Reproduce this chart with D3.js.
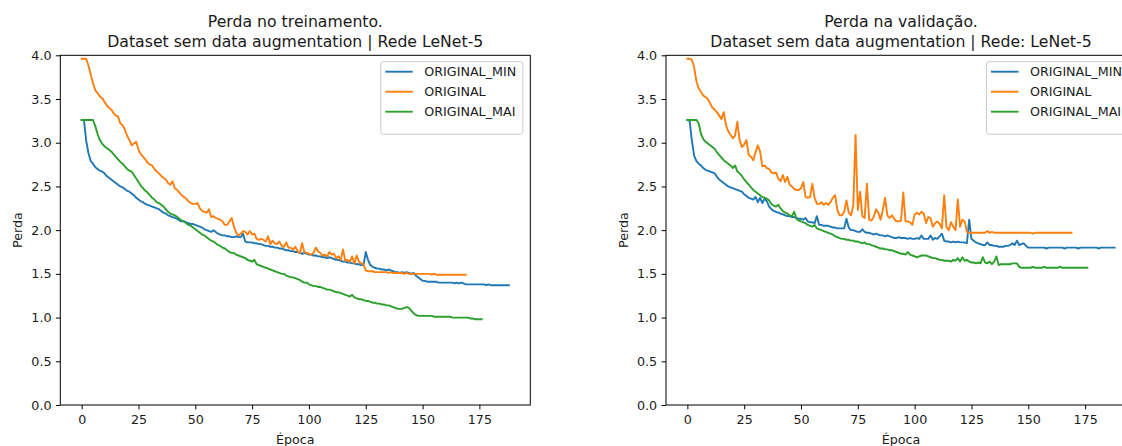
<!DOCTYPE html>
<html>
<head>
<meta charset="utf-8">
<script src="https://cdn.jsdelivr.net/npm/d3@7"></script>
<style>
    body { margin: 0; background: #fff; }
    svg text { font-family: "DejaVu Sans", sans-serif; fill: #1a1a1a; }
</style>
</head>
<body>
<div id="chart"></div>
<script>
const seriesNames = ["ORIGINAL_MIN", "ORIGINAL", "ORIGINAL_MAI"];
const xTicks = [0, 25, 50, 75, 100, 125, 150, 175];
const yTicks = [0, 0.5, 1, 1.5, 2, 2.5, 3, 3.5, 4];

// perda no treinamento (uma posição por época)
const trainMin = [
    3.26,3.26,3.02,2.88,2.79,2.76,2.72,2.70,2.68,2.67,
    2.65,2.62,2.60,2.58,2.56,2.54,2.52,2.50,2.49,2.47,
    2.45,2.44,2.42,2.40,2.37,2.35,2.33,2.32,2.30,2.29,
    2.28,2.27,2.26,2.25,2.24,2.22,2.20,2.19,2.17,2.16,
    2.15,2.14,2.13,2.11,2.10,2.10,2.09,2.08,2.07,2.07,
    2.06,2.05,2.04,2.03,2.01,2.00,1.99,1.98,2.00,1.98,
    1.96,1.95,1.94,1.94,1.93,1.93,1.92,1.92,1.93,1.92,
    1.92,1.96,1.87,1.86,1.86,1.86,1.85,1.85,1.84,1.84,
    1.83,1.82,1.82,1.81,1.81,1.80,1.80,1.79,1.79,1.78,
    1.77,1.77,1.76,1.76,1.75,1.75,1.74,1.73,1.74,1.73,
    1.72,1.72,1.71,1.71,1.70,1.70,1.69,1.69,1.68,1.69,
    1.68,1.67,1.66,1.66,1.65,1.64,1.64,1.63,1.63,1.62,
    1.62,1.61,1.61,1.60,1.60,1.75,1.66,1.60,1.58,1.57,
    1.56,1.56,1.55,1.55,1.54,1.55,1.54,1.53,1.52,1.52,
    1.51,1.52,1.51,1.52,1.51,1.50,1.51,1.48,1.46,1.44,
    1.42,1.42,1.41,1.41,1.41,1.41,1.41,1.40,1.40,1.40,
    1.40,1.40,1.40,1.40,1.39,1.40,1.39,1.40,1.39,1.38,
    1.38,1.38,1.38,1.38,1.38,1.38,1.38,1.38,1.37,1.38,
    1.37,1.37,1.37,1.37,1.37,1.37,1.37,1.37,1.37
];
const trainOrig = [
    3.96,3.96,3.96,3.88,3.78,3.68,3.60,3.57,3.53,3.51,
    3.47,3.43,3.40,3.38,3.34,3.31,3.30,3.22,3.20,3.15,
    3.08,3.03,2.97,2.99,3.01,2.92,2.87,2.84,2.81,2.77,
    2.75,2.74,2.70,2.67,2.65,2.62,2.60,2.58,2.54,2.52,
    2.56,2.48,2.46,2.43,2.40,2.38,2.36,2.33,2.31,2.30,
    2.30,2.31,2.25,2.22,2.21,2.20,2.24,2.15,2.16,2.14,
    2.13,2.12,2.10,2.06,2.06,2.10,2.14,2.04,1.97,1.94,
    1.96,1.99,1.98,1.95,1.99,1.95,1.96,1.90,1.89,1.90,
    1.89,1.87,1.93,1.84,1.88,1.85,1.84,1.87,1.82,1.81,
    1.86,1.80,1.80,1.78,1.81,1.76,1.74,1.85,1.75,1.74,
    1.73,1.72,1.74,1.80,1.76,1.74,1.71,1.72,1.70,1.75,
    1.72,1.73,1.68,1.70,1.66,1.78,1.65,1.66,1.64,1.70,
    1.62,1.71,1.64,1.62,1.61,1.54,1.53,1.53,1.53,1.52,
    1.52,1.52,1.52,1.52,1.52,1.51,1.52,1.51,1.51,1.51,
    1.51,1.51,1.50,1.51,1.50,1.50,1.50,1.50,1.50,1.50,
    1.50,1.50,1.50,1.50,1.49,1.50,1.49,1.49,1.49,1.49,
    1.49,1.49,1.49,1.49,1.49,1.49,1.49,1.49,1.49,1.49
];
const trainMai = [
    3.26,3.26,3.26,3.26,3.26,3.26,3.19,3.10,3.03,2.99,
    2.96,2.94,2.92,2.90,2.87,2.84,2.81,2.78,2.76,2.73,
    2.70,2.68,2.67,2.63,2.59,2.55,2.51,2.48,2.45,2.43,
    2.40,2.37,2.35,2.32,2.31,2.29,2.27,2.24,2.21,2.19,
    2.18,2.17,2.15,2.13,2.11,2.10,2.08,2.06,2.05,2.03,
    2.01,1.99,1.97,1.95,1.94,1.92,1.90,1.88,1.87,1.85,
    1.83,1.82,1.80,1.79,1.77,1.75,1.74,1.74,1.72,1.71,
    1.70,1.69,1.68,1.66,1.65,1.64,1.66,1.61,1.60,1.59,
    1.58,1.57,1.56,1.55,1.54,1.53,1.52,1.51,1.50,1.50,
    1.48,1.47,1.46,1.46,1.45,1.44,1.43,1.41,1.40,1.40,
    1.38,1.37,1.36,1.36,1.35,1.35,1.34,1.33,1.32,1.32,
    1.31,1.30,1.29,1.29,1.28,1.27,1.26,1.25,1.24,1.26,
    1.23,1.22,1.21,1.21,1.20,1.19,1.19,1.18,1.17,1.17,
    1.16,1.16,1.15,1.15,1.14,1.14,1.13,1.12,1.11,1.10,
    1.10,1.10,1.11,1.12,1.11,1.08,1.05,1.03,1.02,1.02,
    1.02,1.02,1.02,1.02,1.02,1.01,1.01,1.01,1.01,1.01,
    1.01,1.01,1.01,1.00,1.00,1.00,1.00,1.00,1.00,1.00,
    1.00,0.99,0.99,0.98,0.98,0.98,0.98
];

// perda na validação
const valMin = [
    3.26,3.25,3.02,2.85,2.79,2.76,2.74,2.71,2.69,2.68,
    2.67,2.66,2.65,2.61,2.58,2.56,2.54,2.52,2.50,2.49,
    2.48,2.47,2.46,2.45,2.44,2.41,2.39,2.37,2.36,2.35,
    2.38,2.32,2.37,2.31,2.36,2.33,2.27,2.24,2.22,2.21,
    2.20,2.19,2.18,2.17,2.16,2.16,2.15,2.15,2.14,2.13,
    2.13,2.12,2.14,2.10,2.09,2.09,2.08,2.16,2.06,2.06,
    2.05,2.05,2.05,2.04,2.03,2.03,2.02,2.02,2.02,2.02,
    2.13,2.03,2.00,2.00,1.99,1.98,1.98,2.01,1.98,1.97,
    1.97,1.96,1.95,1.96,1.95,1.94,1.94,1.93,1.94,1.93,
    1.92,1.91,1.91,1.92,1.91,1.91,1.91,1.90,1.91,1.90,
    1.90,1.91,1.90,1.94,1.90,1.90,1.90,1.94,1.89,1.91,
    1.90,1.93,1.96,1.88,1.87,1.87,1.86,1.87,1.86,1.87,
    1.86,1.86,1.86,1.85,2.12,1.90,1.88,1.86,1.85,1.84,
    1.83,1.83,1.86,1.83,1.83,1.82,1.82,1.81,1.81,1.81,
    1.82,1.82,1.83,1.85,1.83,1.88,1.83,1.84,1.85,1.82,
    1.80,1.80,1.80,1.80,1.80,1.80,1.80,1.80,1.79,1.80,
    1.80,1.80,1.80,1.80,1.80,1.80,1.79,1.80,1.80,1.80,
    1.80,1.80,1.79,1.80,1.80,1.80,1.80,1.80,1.80,1.80,
    1.80,1.79,1.80,1.80,1.80,1.80,1.80,1.80,1.80
];
const valOrig = [
    3.96,3.96,3.95,3.86,3.70,3.62,3.58,3.54,3.52,3.50,
    3.45,3.40,3.38,3.35,3.31,3.27,3.35,3.20,3.13,3.09,
    3.05,3.08,3.24,3.03,2.95,2.98,3.03,2.86,2.84,2.80,
    2.89,2.97,2.90,2.73,2.74,2.71,2.70,2.66,2.65,2.66,
    2.59,2.56,2.63,2.55,2.61,2.52,2.50,2.47,2.46,2.46,
    2.48,2.55,2.38,2.37,2.38,2.53,2.37,2.30,2.30,2.32,
    2.29,2.31,2.29,2.32,2.37,2.40,2.23,2.17,2.17,2.21,
    2.34,2.20,2.17,2.28,3.09,2.23,2.44,2.16,2.14,2.53,
    2.12,2.11,2.15,2.24,2.20,2.12,2.23,2.37,2.17,2.14,
    2.17,2.13,2.10,2.10,2.11,2.43,2.10,2.10,2.09,2.06,
    2.18,2.20,2.18,2.21,2.19,2.08,2.15,2.14,2.04,2.08,
    2.10,2.07,2.02,2.40,2.04,2.00,2.09,2.04,2.00,2.35,
    2.04,2.12,2.10,1.98,1.97,1.97,1.97,1.97,1.97,1.97,
    1.97,1.97,1.99,1.97,1.98,1.97,1.97,1.97,1.97,1.97,
    1.97,1.97,1.97,1.97,1.97,1.97,1.97,1.97,1.97,1.97,
    1.97,1.97,1.96,1.97,1.97,1.97,1.97,1.97,1.97,1.97,
    1.97,1.97,1.97,1.97,1.97,1.97,1.97,1.97,1.97,1.97
];
const valMai = [
    3.26,3.26,3.26,3.26,3.26,3.22,3.10,3.04,3.01,2.99,
    2.97,2.95,2.93,2.89,2.86,2.83,2.80,2.78,2.76,2.74,
    2.71,2.74,2.67,2.65,2.62,2.58,2.55,2.52,2.49,2.46,
    2.44,2.42,2.40,2.38,2.37,2.36,2.34,2.30,2.28,2.27,
    2.29,2.25,2.22,2.20,2.19,2.17,2.16,2.21,2.13,2.11,
    2.10,2.09,2.08,2.06,2.05,2.04,2.06,2.02,2.01,2.00,
    1.99,1.98,1.97,1.96,1.95,1.93,1.92,1.91,1.90,1.90,
    1.89,1.89,1.88,1.88,1.87,1.87,1.86,1.85,1.86,1.84,
    1.84,1.83,1.82,1.81,1.80,1.79,1.79,1.78,1.78,1.77,
    1.77,1.76,1.75,1.74,1.73,1.73,1.72,1.75,1.72,1.71,
    1.70,1.69,1.70,1.71,1.71,1.71,1.70,1.69,1.68,1.68,
    1.67,1.66,1.66,1.65,1.65,1.65,1.64,1.66,1.65,1.68,
    1.64,1.69,1.65,1.66,1.64,1.63,1.63,1.62,1.63,1.62,
    1.69,1.63,1.62,1.64,1.61,1.64,1.70,1.60,1.61,1.61,
    1.61,1.61,1.61,1.62,1.62,1.62,1.58,1.57,1.57,1.57,
    1.57,1.57,1.58,1.57,1.57,1.57,1.57,1.58,1.57,1.57,
    1.57,1.57,1.57,1.57,1.58,1.57,1.57,1.57,1.57,1.57,
    1.57,1.57,1.57,1.57,1.57,1.57,1.57
];


class LossChart{
    constructor(svg, left, titleLines, series){
        this.svg = svg;
        this.series = series;
        this.colors = ["#1f77b4", "#ff7f0e", "#2ca02c"];

        this.left = left;
        this.top = 55.3;
        this.wViz = 470;
        this.hViz = 349.7;
        this.titleLines = titleLines;
        this.fontSize = 12.7;

        this.init();
    }

    init(){
        this.g = this.svg.append("g").classed("loss-chart", true);
        this.prepScales();
        this.render();
    }

    prepScales(){
        const maxEpoch = d3.max(this.series, s => s.length - 1);
        const pad = maxEpoch * 0.05;  // margem padrão do matplotlib

        this.xScale = d3.scaleLinear()
            .domain([-pad, maxEpoch + pad])
            .range([this.left, this.left + this.wViz]);

        this.yScale = d3.scaleLinear()
            .domain([0, 4])
            .range([this.top + this.hViz, this.top]);
    }

    render(){
        const fs = this.fontSize;

        const xAxis = this.g.append("g")
            .attr("transform", `translate(0, ${this.top + this.hViz})`)
            .call(d3.axisBottom(this.xScale).tickValues(xTicks).tickSize(4.4).tickPadding(5.5).tickFormat(d3.format("d")));

        const yAxis = this.g.append("g")
            .attr("transform", `translate(${this.left}, 0)`)
            .call(d3.axisLeft(this.yScale).tickValues(yTicks).tickSize(4.4).tickPadding(4.4).tickFormat(d3.format(".1f")));

        [xAxis, yAxis].forEach(ax => {
            ax.select(".domain").remove();
            ax.selectAll("line").attr("stroke", "#000").attr("stroke-width", 1);
            ax.selectAll("text")
                .attr("font-size", fs)
                .attr("font-family", "DejaVu Sans");
        });

        const line = d3.line()
            .x((d, i) => this.xScale(i))
            .y(d => this.yScale(d));

        this.g.selectAll("path.series")
            .data(this.series)
            .enter()
            .append("path")
                .classed("series", true)
                .attr("d", d => line(d))
                .attr("fill", "none")
                .attr("stroke", (d, i) => this.colors[i])
                .attr("stroke-width", 1.9)
                .attr("stroke-linejoin", "round")
                .attr("stroke-linecap", "square");

        this.g.append("rect")
            .attr("x", this.left)
            .attr("y", this.top)
            .attr("width", this.wViz)
            .attr("height", this.hViz)
            .attr("fill", "none")
            .attr("stroke", "#000")
            .attr("stroke-width", 1);

        const cx = this.left + this.wViz / 2;

        const title = this.g.append("text")
            .attr("text-anchor", "middle")
            .attr("font-size", 15.7);
        this.titleLines.forEach((t, i) => {
            title.append("tspan")
                .attr("x", cx)
                .attr("y", 26.7 + i * 19.8)
                .text(t);
        });

        this.g.append("text")
            .attr("x", cx)
            .attr("y", 444)
            .attr("text-anchor", "middle")
            .attr("font-size", fs)
            .text("Época");

        this.g.append("text")
            .attr("transform", `translate(${this.left - 38.3}, ${this.top + this.hViz / 2}) rotate(-90)`)
            .attr("text-anchor", "middle")
            .attr("font-size", fs)
            .text("Perda");

        this.renderLegend();
    }

    renderLegend(){
        const lx = this.left + this.wViz - 7.5 - 142;
        const ly = this.top + 6.4;
        const legend = this.g.append("g").attr("transform", `translate(${lx}, ${ly})`);

        legend.append("rect")
            .attr("width", 142)
            .attr("height", 72.6)
            .attr("rx", 2.5)
            .attr("fill", "#fff")
            .attr("fill-opacity", 0.8)
            .attr("stroke", "#cccccc")
            .attr("stroke-width", 1);

        const rows = legend.selectAll("g.row")
            .data(seriesNames)
            .enter()
            .append("g")
                .attr("transform", (d, i) => `translate(0, ${10 + i * 20})`);

        rows.append("line")
            .attr("x1", 4.5)
            .attr("x2", 32)
            .attr("stroke", (d, i) => this.colors[i])
            .attr("stroke-width", 1.9);

        rows.append("text")
            .attr("x", 43.5)
            .attr("dy", "0.36em")
            .attr("font-size", this.fontSize)
            .text(d => d);
    }
}

const svg = d3.select("#chart").append("svg")
    .attr("width", 1122)
    .attr("height", 446);

new LossChart(svg, 60.3, ["Perda no treinamento.", "Dataset sem data augmentation | Rede LeNet-5"],
    [trainMin, trainOrig, trainMai]);
new LossChart(svg, 666, ["Perda na validação.", "Dataset sem data augmentation | Rede: LeNet-5"],
    [valMin, valOrig, valMai]);
</script>
</body>
</html>
